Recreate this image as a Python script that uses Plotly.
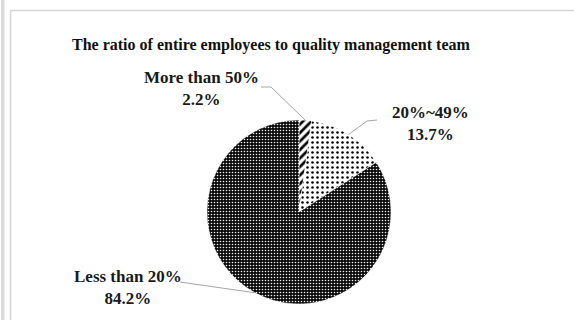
import math
import plotly.graph_objects as go

# Share of companies by ratio of all employees to the quality management team
categories = ["More than 50%", "20%~49%", "Less than 20%"]
shares = [2.2, 13.7, 84.2]

title_text = "The ratio of entire employees to quality management team"

W, H = 574, 320
FONT = "Liberation Serif, Times New Roman, serif"


def px(x, y):
    """Pixel position -> paper coordinates (figure has no margins)."""
    return x / W, 1 - y / H


# Pie geometry in pixels
cx, cy, r = 299, 212, 92

# Fill patterns per slice
patterns = [
    dict(shape="/", fgcolor="black", bgcolor="white", size=6, solidity=0.45),
    dict(shape=".", fgcolor="black", bgcolor="white", size=5, solidity=0.2),
    dict(shape=".", fgcolor="#f0f0f0", bgcolor="#0a0a0a", size=3, solidity=0.22),
]

fig = go.Figure(
    go.Pie(
        labels=categories,
        values=shares,
        sort=False,
        direction="clockwise",
        rotation=0,
        textinfo="none",
        hoverinfo="label+value",
        marker=dict(
            colors=["white", "white", "#0a0a0a"],
            pattern=dict(
                shape=[p["shape"] for p in patterns],
                fgcolor=[p["fgcolor"] for p in patterns],
                bgcolor=[p["bgcolor"] for p in patterns],
                size=[p["size"] for p in patterns],
                solidity=[p["solidity"] for p in patterns],
            ),
            line=dict(color="white", width=0.5),
        ),
        domain=dict(
            x=[(cx - r) / W, (cx + r) / W],
            y=[1 - (cy + r) / H, 1 - (cy - r) / H],
        ),
        showlegend=False,
    )
)

# Label block centres and leader-line start/elbow points (pixels)
label_pos = [(201, 89), (430, 123), (128, 287)]
starts = [(261, 87), (377, 120), (180, 282)]
elbows = [(271, 87), (367, 121), (180, 282)]

total = sum(shares)
cum = 0.0
shapes = []
annotations = []
for name, val, (lx, ly), (ex, ey), (sx, sy) in zip(categories, shares, label_pos, elbows, starts):
    mid = (cum + val / 2) / total
    cum += val
    ang = math.radians(90 - 360 * mid)
    tx, ty = cx + r * math.cos(ang), cy - r * math.sin(ang)
    pts = [px(sx, sy), px(ex, ey), px(tx, ty)]
    path = "M {} {} L {} {} L {} {}".format(*[c for p in pts for c in p])
    shapes.append(dict(type="path", xref="paper", yref="paper", path=path,
                       line=dict(color="#a6a6a6", width=1)))
    ax_, ay_ = px(lx, ly)
    annotations.append(dict(
        x=ax_, y=ay_, xref="paper", yref="paper", showarrow=False,
        text=f"<b>{name}<br>{val:.1f}%</b>", align="center",
        font=dict(family=FONT, size=17, color="#1a1a1a"),
        xanchor="center", yanchor="middle",
    ))

# Title
tx_, ty_ = px(271, 45)
annotations.append(dict(
    x=tx_, y=ty_, xref="paper", yref="paper", showarrow=False,
    text=f"<b>{title_text}</b>",
    font=dict(family=FONT, size=16, color="#111111"),
    xanchor="center", yanchor="middle",
))

# Window frame lines
frame = [
    dict(type="rect", x0=1 / W, x1=4.5 / W, y0=0, y1=1, fillcolor="#dadada",
         line=dict(width=0)),
    dict(type="line", x0=10.5 / W, x1=10.5 / W, y0=0, y1=1 - 10 / H,
         line=dict(color="#d4d4d4", width=1.5)),
    dict(type="line", x0=10 / W, x1=1, y0=1 - 10.5 / H, y1=1 - 10.5 / H,
         line=dict(color="#d4d4d4", width=1.5)),
]
for s in frame:
    s.update(xref="paper", yref="paper")

fig.update_layout(
    width=W, height=H,
    margin=dict(l=0, r=0, t=0, b=0),
    paper_bgcolor="white", plot_bgcolor="white",
    shapes=frame + shapes,
    annotations=annotations,
)

fig.write_html("out.html")
